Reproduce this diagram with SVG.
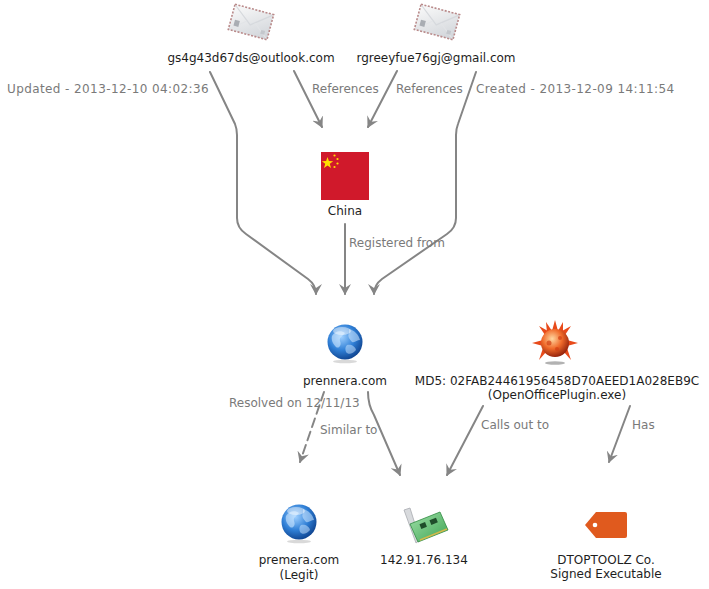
<svg xmlns="http://www.w3.org/2000/svg" width="709" height="589" viewBox="0 0 709 589">
<defs>
<style>
.nl{font-family:"DejaVu Sans","Liberation Sans",sans-serif;font-size:12px;fill:#1e1e1e;text-anchor:middle}
.el{font-family:"DejaVu Sans","Liberation Sans",sans-serif;font-size:12px;fill:#7a7a7a}
.dt{letter-spacing:0.4px}
.c{fill:none;stroke:#858585;stroke-width:2;stroke-linecap:round}
</style>
<marker id="ah" viewBox="0 0 12 12" refX="10" refY="6" markerWidth="12" markerHeight="12" markerUnits="userSpaceOnUse" orient="auto">
<path d="M0,0 L11,6 L0,12 L4,6 z" fill="#858585"/>
</marker>
<linearGradient id="env" x1="0" y1="0" x2="1" y2="1">
<stop offset="0" stop-color="#fafafa"/><stop offset="1" stop-color="#cfd3d8"/>
</linearGradient>
<radialGradient id="glb" cx="0.4" cy="0.35" r="0.7">
<stop offset="0" stop-color="#9fd0ff"/><stop offset="0.55" stop-color="#2f7fd6"/><stop offset="1" stop-color="#0d3f8a"/>
</radialGradient>
<radialGradient id="mal" cx="0.4" cy="0.35" r="0.7">
<stop offset="0" stop-color="#ffd7a0"/><stop offset="0.5" stop-color="#f06a2a"/><stop offset="1" stop-color="#8a1a08"/>
</radialGradient>
<linearGradient id="pcb" x1="0" y1="0" x2="1" y2="1">
<stop offset="0" stop-color="#9fe0a8"/><stop offset="1" stop-color="#3da352"/>
</linearGradient>
<g id="envelope">
<rect x="-20" y="-13" width="40" height="26" fill="url(#env)" stroke="#b98a8a" stroke-width="1.6" stroke-dasharray="2,1.5"/>
<path d="M-19,-12 L0,3 L19,-12" fill="none" stroke="#d6d9dd" stroke-width="1.2"/>
<path d="M-19,12 L-4,0 M19,12 L4,0" fill="none" stroke="#e2e4e7" stroke-width="1"/>
<rect x="-16" y="2" width="5" height="6" fill="#a9adb3"/>
<rect x="12" y="5" width="4" height="4" fill="#c4c7cc"/>
</g>
<g id="globe">
<circle r="17.5" fill="url(#glb)"/>
<path d="M-13,-6 C-10,-11 -4,-12 0,-9 C-2,-6 -6,-5 -5,-1 C-3,3 -6,7 -9,5 C-12,2 -14,-2 -13,-6 z" fill="#cfe8ff" opacity="0.6"/>
<path d="M4,-13 C9,-12 14,-7 15,-2 C12,-2 10,1 7,0 C5,-3 2,-5 4,-9 z" fill="#cfe8ff" opacity="0.55"/>
<path d="M2,3 C6,2 10,4 11,8 C8,12 3,13 1,10 C0,7 0,5 2,3 z" fill="#cfe8ff" opacity="0.5"/>
<ellipse cx="-3" cy="-11" rx="9" ry="4" fill="#ffffff" opacity="0.45"/>
<ellipse cx="0" cy="19.5" rx="12" ry="1.8" fill="#000" opacity="0.15"/>
</g>
</defs>
<rect width="709" height="589" fill="#ffffff"/>

<g id="connectors">
<path class="c" d="M210,72 L235,124 Q237,129 237,135 L237,218 Q237,228 246,234 L308,279 Q316,285 316,294" marker-end="url(#ah)"/>
<path class="c" d="M294,71 L322,127" marker-end="url(#ah)"/>
<path class="c" d="M397,71 L368,127" marker-end="url(#ah)"/>
<path class="c" d="M476,72 L458,124 Q456,129 456,135 L456,218 Q456,228 447,234 L382,279 Q374,285 374,294" marker-end="url(#ah)"/>
<path class="c" d="M345,224 L345,294" marker-end="url(#ah)"/>
<path class="c" d="M324,392 L300,462" stroke-dasharray="9,5" marker-end="url(#ah)"/>
<path class="c" d="M368,392 Q368,405 374,415 L400,475" marker-end="url(#ah)"/>
<path class="c" d="M483,406 L447,475" marker-end="url(#ah)"/>
<path class="c" d="M630,406 L609,462" marker-end="url(#ah)"/>
<text class="el dt" x="7" y="93">Updated - 2013-12-10 04:02:36</text>
<text class="el" x="312" y="93">References</text>
<text class="el" x="396" y="93">References</text>
<text class="el dt" x="476" y="93">Created - 2013-12-09 14:11:54</text>
<text class="el" x="349" y="247">Registered from</text>
<text class="el" x="229" y="407">Resolved on 12/11/13</text>
<text class="el" x="320" y="434">Similar to</text>
<text class="el" x="481" y="429">Calls out to</text>
<text class="el" x="632" y="429">Has</text>
</g>

<g id="email1">
<use href="#envelope" transform="translate(251,22) rotate(15)"/>
<text class="nl" x="251" y="62">gs4g43d67ds@outlook.com</text>
</g>

<g id="email2">
<use href="#envelope" transform="translate(437,22) rotate(15)"/>
<text class="nl" x="436" y="62">rgreeyfue76gj@gmail.com</text>
</g>

<g id="china">
<rect x="321" y="152" width="48" height="48" fill="#d0192b"/>
<polygon points="327.5,157 328.9,161.1 333.2,161.2 329.8,163.8 331,168 327.5,165.5 324,168 325.2,163.8 321.8,161.2 326.1,161.1" fill="#ffde00"/>
<circle cx="334.5" cy="155.5" r="1.1" fill="#ffde00"/>
<circle cx="337.5" cy="159" r="1.1" fill="#ffde00"/>
<circle cx="337.5" cy="163.5" r="1.1" fill="#ffde00"/>
<circle cx="334.5" cy="167" r="1.1" fill="#ffde00"/>
<text class="nl" x="345" y="215">China</text>
</g>

<g id="prennera">
<use href="#globe" transform="translate(345,342)"/>
<text class="nl" x="345" y="385">prennera.com</text>
</g>

<g id="malware">
<g fill="#e84a1a">
<polygon points="555,320 558,331 552,331"/>
<polygon points="571,326 565,335 562,331"/>
<polygon points="578,343 567,346 567,340"/>
<polygon points="571,360 563,351 567,348"/>
<polygon points="539,360 547,351 543,348"/>
<polygon points="532,343 543,340 543,346"/>
<polygon points="539,326 548,331 545,335"/>
<polygon points="563,322 563,333 558,331"/>
<polygon points="546,322 552,331 547,333"/>
</g>
<circle cx="555" cy="343" r="14" fill="url(#mal)"/>
<circle cx="549" cy="343" r="2.5" fill="#d23e12" opacity="0.7"/>
<circle cx="560" cy="338" r="2" fill="#d23e12" opacity="0.7"/>
<circle cx="557" cy="349" r="2" fill="#d23e12" opacity="0.7"/>
<ellipse cx="555" cy="363" rx="10" ry="1.8" fill="#000" opacity="0.3"/>
<text class="nl" x="557" y="385">MD5: 02FAB24461956458D70AEED1A028EB9C</text>
<text class="nl" x="557" y="399">(OpenOfficePlugin.exe)</text>
</g>

<g id="premera">
<use href="#globe" transform="translate(299,522)"/>
<text class="nl" x="299" y="564">premera.com</text>
<text class="nl" x="299" y="579">(Legit)</text>
</g>

<g id="ip">
<path d="M404,510 L410,508 L420,540 L416,543 z" fill="#d8dadd" stroke="#a8abb0" stroke-width="0.8"/>
<path d="M410,524 L440,512 L448,530 L418,542 z" fill="url(#pcb)" stroke="#2e8a40" stroke-width="0.8"/>
<rect x="420" y="523" width="6" height="5" fill="#1f4d2a" transform="rotate(-22 423 525)"/>
<rect x="430" y="519" width="7" height="5" fill="#1f4d2a" transform="rotate(-22 433 521)"/>
<path d="M420,540 L447,529" stroke="#d4b84a" stroke-width="1.5"/>
<text class="nl" x="424" y="564">142.91.76.134</text>
</g>

<g id="cert">
<path d="M596,512 L625,512 Q627,512 627,514 L627,536 Q627,538 625,538 L596,538 L585,525 z" fill="#e05a1e"/>
<circle cx="595" cy="525" r="2.3" fill="#ffffff"/>
<text class="nl" x="606" y="564">DTOPTOOLZ Co.</text>
<text class="nl" x="606" y="578">Signed Executable</text>
</g>
</svg>
